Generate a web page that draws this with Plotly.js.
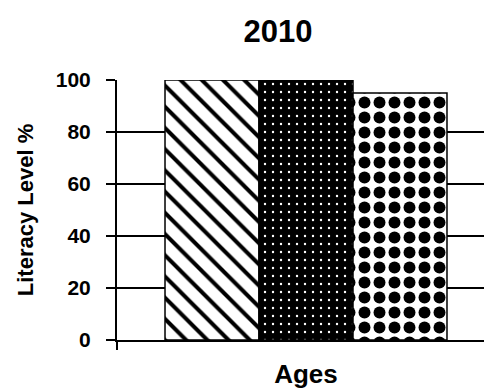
<!DOCTYPE html>
<html>
<head>
<meta charset="utf-8">
<script src="https://cdn.plot.ly/plotly-3.0.1.min.js"></script>
<style>
  html, body { margin: 0; padding: 0; overflow: hidden; background: #fff; }
  #chart { width: 495px; height: 389px; }
</style>
</head>
<body>
<div id="chart"></div>
<script>
// Literacy level by age group, 2010
const categories = [''];
const seriesNames = ['Series 1', 'Series 2', 'Series 3'];
const seriesValues = [[100], [100], [95]];
const yTickValues = [0, 20, 40, 60, 80, 100];
const yTickLabels = ['0', '20', '40', '60', '80', '100'];

const patterns = [
  { shape: '\\', fgcolor: '#000', bgcolor: '#fff', size: 15, solidity: 0.27, fillmode: 'replace' },
  { shape: '.', fgcolor: '#fff', bgcolor: '#000', size: 8, solidity: 0.07, fillmode: 'replace' },
  { shape: '.', fgcolor: '#000', bgcolor: '#fff', size: 15, solidity: 0.5, fillmode: 'replace' }
];

const FONT = '"Liberation Sans", Arial, sans-serif';

const traces = seriesValues.map((vals, i) => ({
  type: 'bar',
  name: seriesNames[i],
  x: categories,
  y: vals,
  marker: {
    color: patterns[i].bgcolor,
    pattern: patterns[i],
    line: { color: '#000', width: 1.5 }
  },
  hoverinfo: 'y'
}));

const layout = {
  width: 495,
  height: 389,
  margin: { l: 117, r: 0, t: 80, b: 49 },
  paper_bgcolor: '#fff',
  plot_bgcolor: '#fff',
  showlegend: false,
  barmode: 'group',
  bargap: 0.254,
  bargroupgap: 0,
  title: {
    text: '<b>2010</b>',
    font: { family: FONT, size: 31, color: '#000' },
    xref: 'container', x: 278 / 495, xanchor: 'center',
    yref: 'container', y: 1 - 31 / 389, yanchor: 'middle'
  },
  xaxis: {
    type: 'category',
    showticklabels: false,
    showline: true, linecolor: '#000', linewidth: 2,
    ticks: 'outside', tickson: 'boundaries', ticklen: 8, tickwidth: 2, tickcolor: '#000',
    showgrid: false, zeroline: false,
    title: { text: '<b>Ages</b>', font: { family: FONT, size: 26, color: '#000' }, standoff: 24 }
  },
  yaxis: {
    range: [0, 100],
    tickvals: yTickValues,
    ticktext: yTickLabels,
    tickfont: { family: FONT, size: 21, color: '#000', weight: 'bold' },
    ticks: 'outside', ticklen: 9, tickwidth: 2, tickcolor: '#000',
    ticklabelstandoff: 11,
    showline: true, linecolor: '#000', linewidth: 2,
    showgrid: true, gridcolor: '#000', gridwidth: 2,
    zeroline: false,
    title: { text: '<b>Literacy Level %</b>', font: { family: FONT, size: 22, color: '#000' }, standoff: 16 }
  }
};

Plotly.newPlot('chart', traces, layout, { displayModeBar: false, staticPlot: true });
</script>
</body>
</html>
